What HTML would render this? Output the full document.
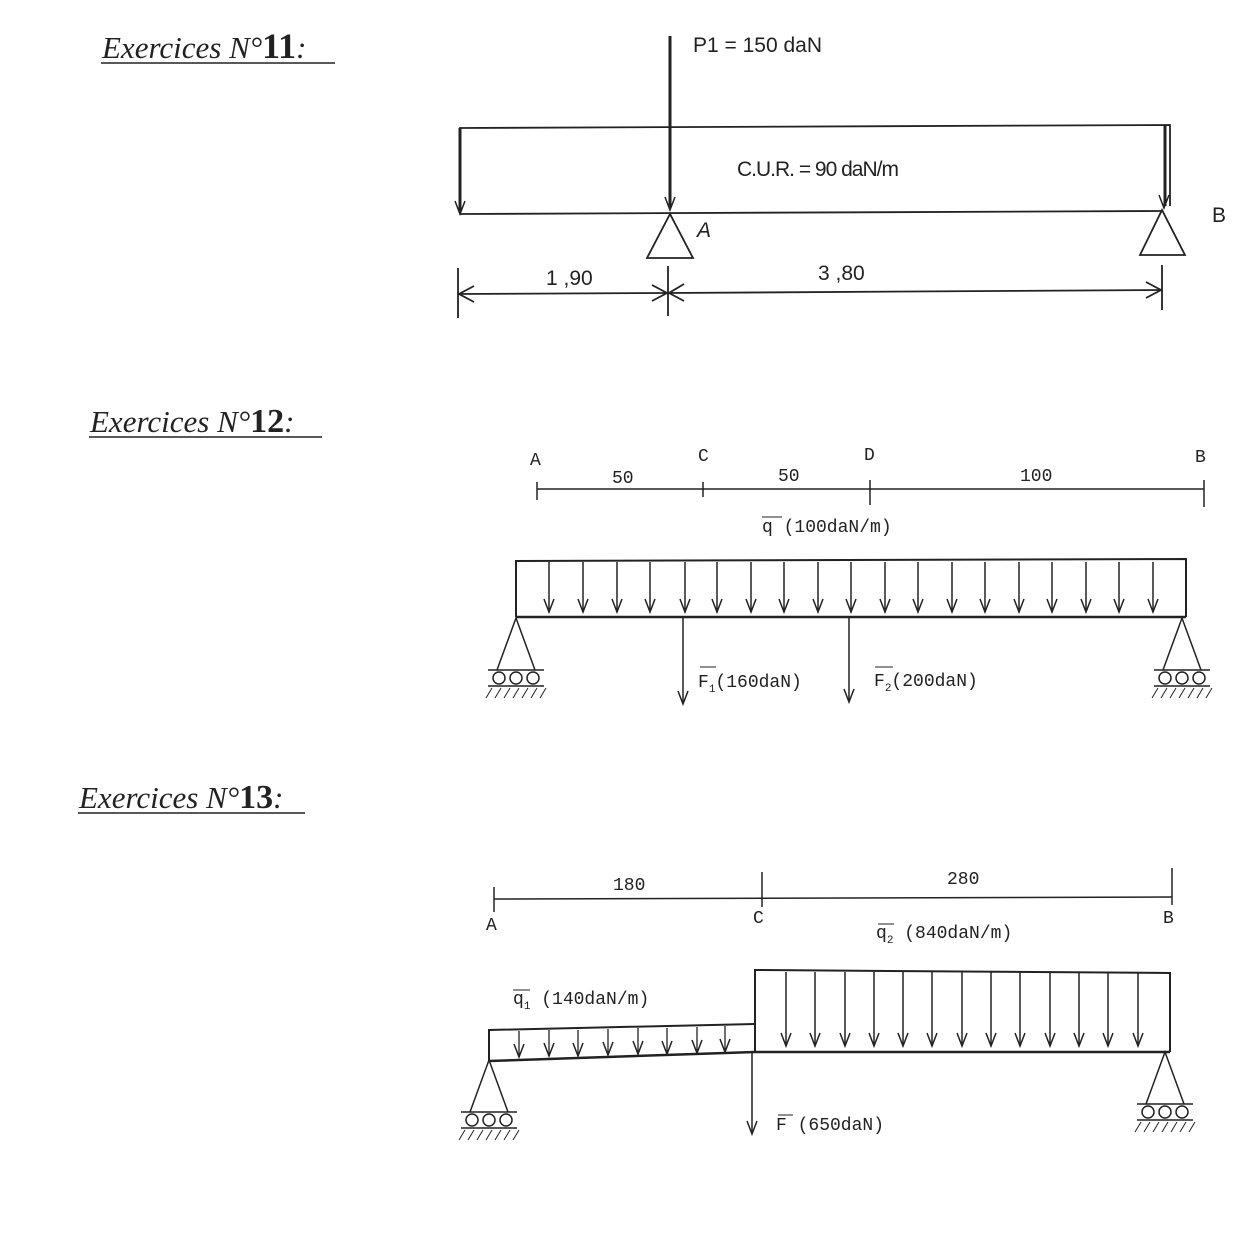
<!DOCTYPE html>
<html><head><meta charset="utf-8"><style>
html,body{margin:0;padding:0;background:#fff;}
svg{display:block;}
.h{font-family:"Liberation Serif",serif;font-style:italic;font-size:31px;fill:#222;}
.t{font-family:"Liberation Sans",sans-serif;font-size:21px;fill:#222;}
.m{font-family:"Liberation Mono",monospace;font-size:18px;fill:#222;}
</style></head><body>
<svg width="1242" height="1256" viewBox="0 0 1242 1256" xmlns="http://www.w3.org/2000/svg">
<defs>
<path id="ah" d="M-5,-13 L0,0 L5,-13" fill="none" stroke="#222" stroke-width="1.5"/>
<g id="ar"><line x1="0" y1="0" x2="0" y2="50" stroke="#222" stroke-width="1.5"/><use href="#ah" x="0" y="50"/></g>
<g id="ar2"><line x1="0" y1="0" x2="0" y2="74" stroke="#222" stroke-width="1.5"/><use href="#ah" x="0" y="74"/></g>
<g id="ar3"><line x1="0" y1="0" x2="0" y2="26" stroke="#222" stroke-width="1.3"/><use href="#ah" x="0" y="26"/></g>
<g id="sup" stroke="#222" stroke-width="1.5" fill="none">
<polyline points="-19,52 0,0 19,52"/>
<line x1="-28" y1="52" x2="28" y2="52"/>
<line x1="-28" y1="68" x2="28" y2="68"/>
<circle cx="-17" cy="60" r="6"/><circle cx="0" cy="60" r="6"/><circle cx="17" cy="60" r="6"/>
<path d="M-30,80 l6,-10 M-21,80 l6,-10 M-12,80 l6,-10 M-3,80 l6,-10 M6,80 l6,-10 M15,80 l6,-10 M24,80 l6,-10" stroke-width="1"/>
</g>
</defs>

<!-- Headings -->
<text class="h" x="102" y="58">Exercices N°<tspan font-weight="bold" font-style="normal" font-size="36">11</tspan>:</text>
<line x1="101" y1="63" x2="335" y2="63" stroke="#222" stroke-width="1.5"/>
<text class="h" x="90" y="432" fill="#555">Exercices N°<tspan font-weight="bold" font-style="normal" font-size="34">12</tspan>:</text>
<line x1="89" y1="437" x2="322" y2="437" stroke="#222" stroke-width="1.5"/>
<text class="h" x="79" y="808">Exercices N°<tspan font-weight="bold" font-style="normal" font-size="34">13</tspan>:</text>
<line x1="78" y1="813" x2="305" y2="813" stroke="#222" stroke-width="1.5"/>

<!-- Exercise 1 -->
<g stroke="#222" stroke-width="1.8" fill="none">
<polyline points="460,214 460,128 1170,125 1170,206"/>
<line x1="460" y1="214" x2="1163" y2="211"/>
<line x1="670" y1="36" x2="670" y2="208" stroke-width="3"/>
<line x1="460" y1="128" x2="460" y2="212" stroke-width="3"/>
<line x1="1165" y1="125" x2="1165" y2="206" stroke-width="3"/>
<polygon points="670,214 647,258 693,258"/>
<polygon points="1162,210 1140,255 1185,255"/>
<line x1="458" y1="268" x2="458" y2="318"/>
<line x1="668" y1="266" x2="668" y2="316"/>
<line x1="1162" y1="265" x2="1162" y2="310"/>
<line x1="458" y1="294" x2="668" y2="293"/>
<line x1="668" y1="293" x2="1162" y2="290"/>
<path d="M474,286 L459,294 L474,302 M652,285 L667,293 L652,301 M684,284 L669,293 L684,301 M1146,282 L1161,290 L1146,298"/>
</g>
<use href="#ah" x="460" y="214"/><use href="#ah" x="670" y="210"/><use href="#ah" x="1164" y="208"/>
<text class="t" x="693" y="52">P1 = 150 daN</text>
<text class="t" x="737" y="176" letter-spacing="-1">C.U.R. = 90 daN/m</text>
<text class="t" x="697" y="237" font-style="italic" font-size="18">A</text>
<text class="t" x="1212" y="222">B</text>
<text class="t" x="546" y="285">1 ,90</text>
<text class="t" x="818" y="280">3 ,80</text>

<!-- Exercise 2 -->
<g stroke="#222" stroke-width="1.5" fill="none">
<line x1="537" y1="489" x2="1204" y2="489"/>
<line x1="537" y1="482" x2="537" y2="500"/>
<line x1="703" y1="482" x2="703" y2="497"/>
<line x1="870" y1="480" x2="870" y2="505"/>
<line x1="1204" y1="480" x2="1204" y2="507"/>
<polyline points="516,617 516,561 1186,559 1186,617" stroke-width="2"/>
<line x1="516" y1="617" x2="1186" y2="617" stroke-width="2.5"/>
<line x1="683" y1="617" x2="683" y2="703"/>
<line x1="849" y1="617" x2="849" y2="700"/>
<line x1="762" y1="517" x2="782" y2="517" stroke-width="1"/>
<line x1="700" y1="667" x2="716" y2="667" stroke-width="1"/>
<line x1="875" y1="667" x2="893" y2="667" stroke-width="1"/>
</g>
<use href="#ah" x="683" y="704"/><use href="#ah" x="849" y="702"/>
<use href="#ar" x="549" y="562"/><use href="#ar" x="583" y="562"/><use href="#ar" x="617" y="562"/><use href="#ar" x="650" y="562"/><use href="#ar" x="685" y="562"/><use href="#ar" x="717" y="562"/><use href="#ar" x="751" y="562"/><use href="#ar" x="784" y="562"/><use href="#ar" x="818" y="562"/><use href="#ar" x="851" y="562"/><use href="#ar" x="885" y="562"/><use href="#ar" x="918" y="562"/><use href="#ar" x="952" y="562"/><use href="#ar" x="985" y="562"/><use href="#ar" x="1019" y="562"/><use href="#ar" x="1052" y="562"/><use href="#ar" x="1086" y="562"/><use href="#ar" x="1119" y="562"/><use href="#ar" x="1153" y="562"/>
<use href="#sup" x="516" y="618"/><use href="#sup" x="1182" y="618"/>
<text class="m" x="530" y="465" font-size="15">A</text>
<text class="m" x="698" y="461" font-size="15">C</text>
<text class="m" x="864" y="460" font-size="15">D</text>
<text class="m" x="1195" y="462" font-size="15">B</text>
<text class="m" x="612" y="483">50</text>
<text class="m" x="778" y="481">50</text>
<text class="m" x="1020" y="481">100</text>
<text class="m" x="762" y="532">q (100daN/m)</text>
<text class="m" x="698" y="687">F<tspan font-size="11" dy="5">1</tspan><tspan dy="-5">(160daN)</tspan></text>
<text class="m" x="874" y="686">F<tspan font-size="11" dy="5">2</tspan><tspan dy="-5">(200daN)</tspan></text>

<!-- Exercise 3 -->
<g stroke="#222" stroke-width="1.5" fill="none">
<line x1="494" y1="899" x2="1172" y2="897"/>
<line x1="494" y1="887" x2="494" y2="912"/>
<line x1="762" y1="872" x2="762" y2="907"/>
<line x1="1172" y1="868" x2="1172" y2="905"/>
<polyline points="489,1061 489,1030 755,1024" stroke-width="2"/>
<line x1="489" y1="1061" x2="755" y2="1052" stroke-width="2.5"/>
<polyline points="755,1052 755,970 1170,973 1170,1052" stroke-width="2"/>
<line x1="755" y1="1052" x2="1170" y2="1052" stroke-width="2.5"/>
<line x1="752" y1="1052" x2="752" y2="1133"/>
<line x1="878" y1="924" x2="894" y2="924" stroke-width="1"/>
<line x1="513" y1="990" x2="530" y2="990" stroke-width="1"/>
<line x1="778" y1="1115" x2="793" y2="1115" stroke-width="1"/>
</g>
<use href="#ah" x="752" y="1134"/>
<use href="#ar3" x="519" y="1031"/><use href="#ar3" x="549" y="1030"/><use href="#ar3" x="578" y="1030"/><use href="#ar3" x="608" y="1029"/><use href="#ar3" x="638" y="1028"/><use href="#ar3" x="667" y="1028"/><use href="#ar3" x="697" y="1027"/><use href="#ar3" x="725" y="1026"/>
<use href="#ar2" x="786" y="972"/><use href="#ar2" x="815" y="972"/><use href="#ar2" x="845" y="972"/><use href="#ar2" x="874" y="972"/><use href="#ar2" x="903" y="972"/><use href="#ar2" x="932" y="972"/><use href="#ar2" x="962" y="972"/><use href="#ar2" x="991" y="972"/><use href="#ar2" x="1020" y="972"/><use href="#ar2" x="1050" y="972"/><use href="#ar2" x="1079" y="972"/><use href="#ar2" x="1108" y="972"/><use href="#ar2" x="1138" y="972"/>
<use href="#sup" x="489" y="1060" transform="translate(0,0)"/>
<use href="#sup" x="1165" y="1052"/>
<text class="m" x="613" y="890">180</text>
<text class="m" x="947" y="884">280</text>
<text class="m" x="486" y="930" font-size="15">A</text>
<text class="m" x="753" y="923" font-size="15">C</text>
<text class="m" x="1163" y="923" font-size="15">B</text>
<text class="m" x="876" y="938">q<tspan font-size="11" dy="5">2</tspan><tspan dy="-5"> (840daN/m)</tspan></text>
<text class="m" x="513" y="1004">q<tspan font-size="11" dy="5">1</tspan><tspan dy="-5"> (140daN/m)</tspan></text>
<text class="m" x="776" y="1130">F (650daN)</text>
</svg>
</body></html>
